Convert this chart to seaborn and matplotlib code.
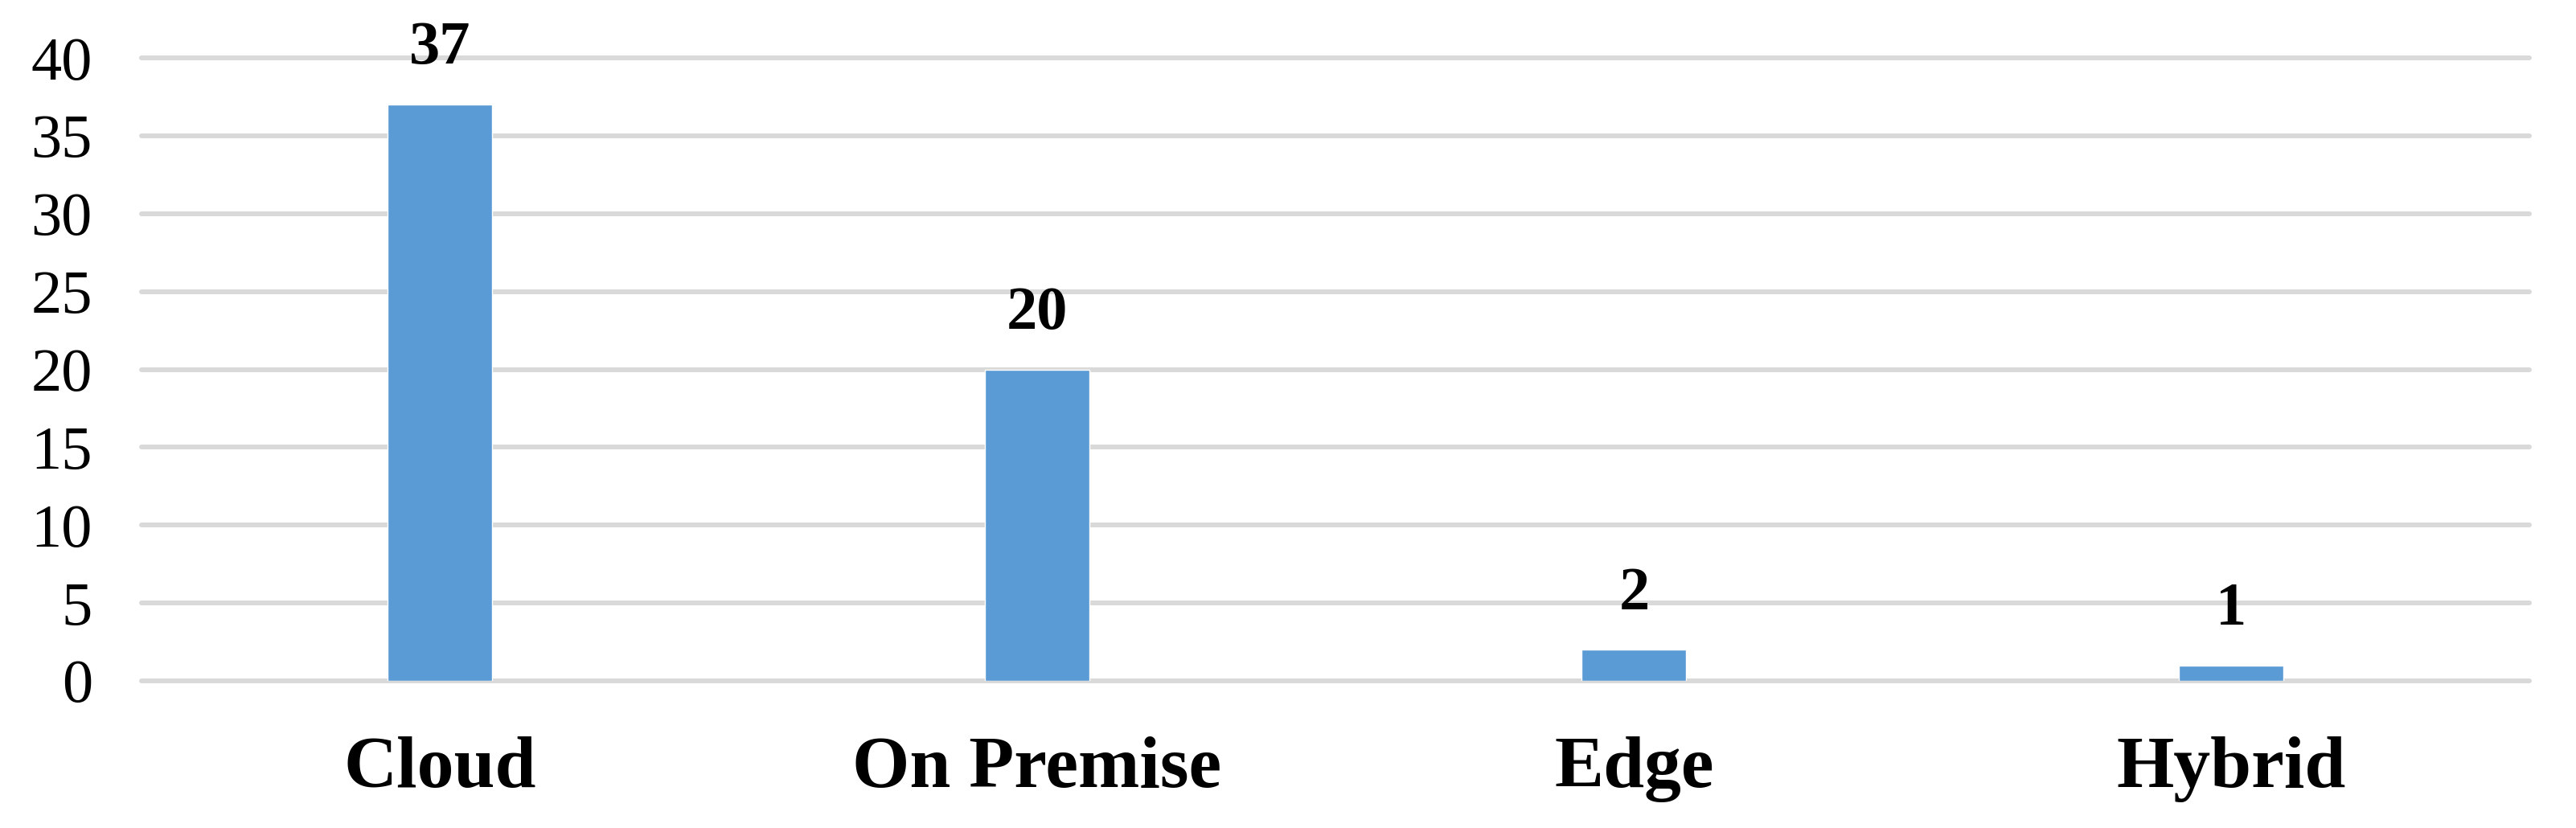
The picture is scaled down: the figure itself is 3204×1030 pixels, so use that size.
import pandas as pd
import numpy as np
import seaborn as sns
import matplotlib.pyplot as plt

# deployment counts
categories = ["Cloud", "On Premise", "Edge", "Hybrid"]
counts = [37, 20, 2, 1]
yticks = [0, 5, 10, 15, 20, 25, 30, 35, 40]

sns.set_theme(style="white")
plt.rcParams['font.family'] = ['Liberation Serif', 'DejaVu Serif']
plt.rcParams['text.color'] = 'black'
plt.rcParams['xtick.color'] = 'black'
plt.rcParams['ytick.color'] = 'black'

df = pd.DataFrame({"deployment": categories, "count": counts})

fig, ax = plt.subplots(figsize=(32.04, 10.30), dpi=100)
fig.subplots_adjust(left=0.0549, right=0.982, top=0.930, bottom=0.1777)

sns.barplot(data=df, x="deployment", y="count", color="#5B9BD5",
            saturation=1, width=0.175, ax=ax, zorder=3)

ax.set_ylim(0, 40)
ax.set_xlim(-0.5, len(categories) - 0.5)
ax.set_yticks(yticks)
ax.yaxis.grid(True, color="#D9D9D9", linewidth=4.3, zorder=0)
for gl in ax.get_ygridlines():
    gl.set_clip_on(False)
ax.xaxis.grid(False)
ax.set_axisbelow(True)
for s in ax.spines.values():
    s.set_visible(False)

ax.set_xlabel("")
ax.set_ylabel("")
ax.tick_params(axis="y", length=0, pad=44, labelsize=55)
ax.tick_params(axis="x", length=0, pad=50, labelsize=66)
for lbl in ax.get_xticklabels():
    lbl.set_fontweight("bold")

ax.bar_label(ax.containers[0], labels=[str(v) for v in counts], padding=25,
             fontsize=55, fontweight="bold", color="black")

plt.savefig("out.png", dpi=100)
